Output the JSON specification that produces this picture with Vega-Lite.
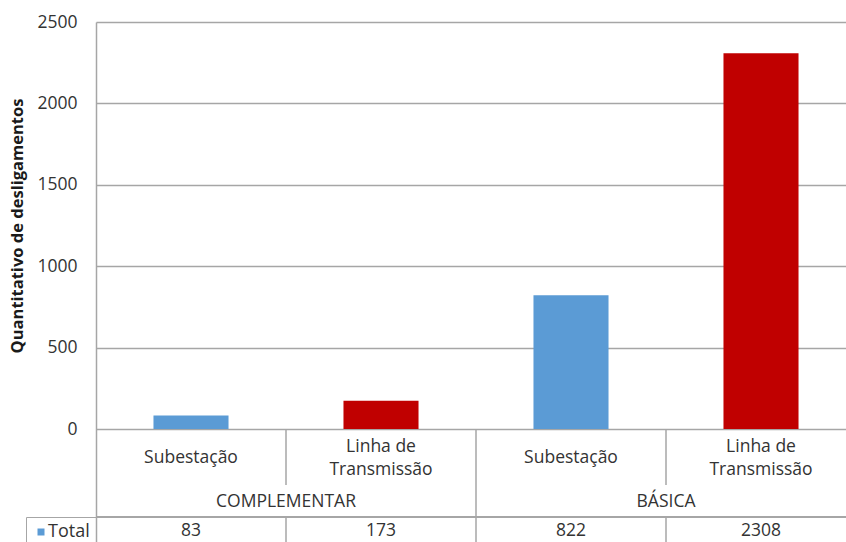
{
  "$schema": "https://vega.github.io/schema/vega-lite/v6.json",
  "autosize": "none",
  "width": 750,
  "height": 520,
  "padding": {"left": 96, "top": 22, "right": 0, "bottom": 0},
  "background": "white",
  "config": {
    "view": {"stroke": null},
    "font": "Open Sans",
    "text": {"font": "Open Sans", "fontSize": 17.5, "color": "#333333"}
  },
  "data": {
    "values": [
      {"grupo": "COMPLEMENTAR", "tipo": "Subestação", "rotulo": "Subestação", "total": 83},
      {"grupo": "COMPLEMENTAR", "tipo": "Linha de Transmissão", "rotulo": "Linha de\nTransmissão", "total": 173},
      {"grupo": "BÁSICA", "tipo": "Subestação", "rotulo": "Subestação", "total": 822},
      {"grupo": "BÁSICA", "tipo": "Linha de Transmissão", "rotulo": "Linha de\nTransmissão", "total": 2308}
    ]
  },
  "layer": [
    {
      "mark": {"type": "bar"},
      "encoding": {
        "x": {
          "field": "grupo",
          "type": "nominal",
          "sort": null,
          "axis": null,
          "scale": {"range": [0, 760], "paddingInner": 0, "paddingOuter": 0}
        },
        "xOffset": {
          "field": "tipo",
          "type": "nominal",
          "sort": null,
          "scale": {"paddingInner": 0.605, "paddingOuter": 0.3025}
        },
        "y": {
          "field": "total",
          "type": "quantitative",
          "scale": {"domain": [-694.1, 2500], "nice": false, "zero": false},
          "axis": {
            "values": [0, 500, 1000, 1500, 2000, 2500],
            "format": "d",
            "grid": true,
            "gridColor": "#A6A6A6",
            "gridWidth": 1.5,
            "domainColor": "#A6A6A6",
            "domainWidth": 1.5,
            "ticks": false,
            "labelPadding": 19,
            "labelFont": "Open Sans",
            "labelFontSize": 17.5,
            "labelColor": "#333333",
            "title": "Quantitativo de desligamentos",
            "titleFont": "Open Sans",
            "titleFontSize": 16.5,
            "titleFontWeight": "bold",
            "titleColor": "#1a1a1a",
            "titleAngle": 270,
            "titleBaseline": "middle",
            "titleAlign": "center",
            "titleX": -79,
            "titleY": 203.5
          }
        },
        "color": {
          "datum": "Total",
          "type": "nominal",
          "scale": {"range": ["#5B9BD5"]},
          "condition": {"test": "datum.tipo !== 'Subestação'", "value": "#C00000"},
          "legend": {
            "title": null,
            "orient": "none",
            "legendX": -70,
            "legendY": 495,
            "strokeColor": "#A6A6A6",
            "padding": 6,
            "symbolType": "square",
            "symbolSize": 49,
            "symbolStrokeWidth": 0,
            "labelFont": "Open Sans",
            "labelFontSize": 18,
            "labelColor": "#333333",
            "labelOffset": -2
          }
        }
      }
    },
    {
      "mark": {"type": "rule", "color": "#A6A6A6", "strokeWidth": 1.5},
      "encoding": {"y": {"datum": -540}}
    },
    {
      "transform": [{"filter": "datum.tipo === 'Subestação'"}],
      "mark": {"type": "rule", "color": "#A6A6A6", "strokeWidth": 1.5},
      "encoding": {
        "x": {"field": "grupo", "type": "nominal", "sort": null, "bandPosition": 0.5},
        "y": {"datum": 0},
        "y2": {"datum": -344}
      }
    },
    {
      "transform": [{"filter": "datum.tipo === 'Subestação'"}],
      "mark": {"type": "rule", "color": "#A6A6A6", "strokeWidth": 1.5},
      "encoding": {
        "x": {"field": "grupo", "type": "nominal", "sort": null, "bandPosition": 0.5},
        "y": {"datum": -540},
        "y2": {"datum": -694.1}
      }
    },
    {
      "transform": [{"filter": "datum.tipo === 'Subestação' && datum.grupo === 'BÁSICA'"}],
      "mark": {"type": "rule", "color": "#A6A6A6", "strokeWidth": 1.5},
      "encoding": {
        "x": {"field": "grupo", "type": "nominal", "sort": null, "bandPosition": 0},
        "y": {"datum": 0},
        "y2": {"datum": -694.1}
      }
    },
    {
      "transform": [{"filter": "datum.tipo === 'Subestação'"}],
      "mark": {"type": "text", "baseline": "middle", "align": "center"},
      "encoding": {
        "x": {"field": "grupo", "type": "nominal", "sort": null},
        "xOffset": {"field": "tipo", "type": "nominal", "sort": null},
        "y": {"datum": -178},
        "text": {"field": "rotulo"}
      }
    },
    {
      "transform": [{"filter": "datum.tipo !== 'Subestação'"}],
      "mark": {"type": "text", "baseline": "middle", "align": "center", "lineBreak": "\n", "lineHeight": 23},
      "encoding": {
        "x": {"field": "grupo", "type": "nominal", "sort": null},
        "xOffset": {"field": "tipo", "type": "nominal", "sort": null},
        "y": {"datum": -110.6},
        "text": {"field": "rotulo"}
      }
    },
    {
      "transform": [{"filter": "datum.tipo === 'Subestação'"}],
      "mark": {"type": "text", "baseline": "middle", "align": "center"},
      "encoding": {
        "x": {"field": "grupo", "type": "nominal", "sort": null, "bandPosition": 0.5},
        "y": {"datum": -448},
        "text": {"field": "grupo"}
      }
    },
    {
      "mark": {"type": "text", "baseline": "middle", "align": "center"},
      "encoding": {
        "x": {"field": "grupo", "type": "nominal", "sort": null},
        "xOffset": {"field": "tipo", "type": "nominal", "sort": null},
        "y": {"datum": -627},
        "text": {"field": "total", "type": "quantitative", "format": "d"}
      }
    }
  ]
}
